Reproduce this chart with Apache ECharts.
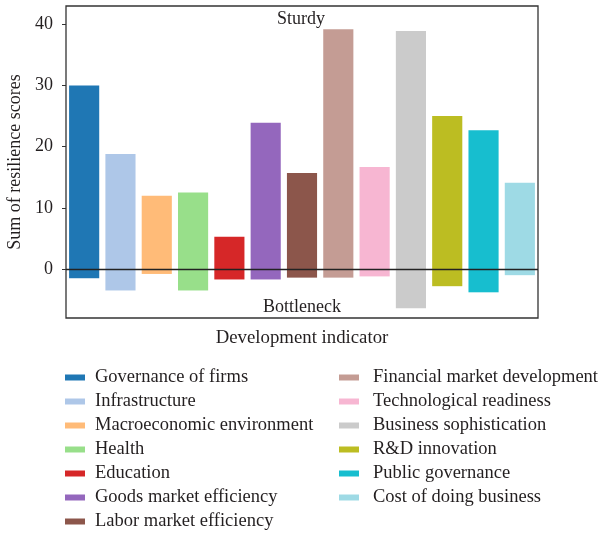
<!DOCTYPE html>
<html>
<head>
<meta charset="utf-8">
<script src="https://cdn.jsdelivr.net/npm/echarts@6/dist/echarts.min.js"></script>
<style>html,body{margin:0;padding:0;background:#fff}#c{width:602px;height:535px}</style>
</head>
<body>
<div id="c"></div>
<script>
const categories = ["Governance of firms","Infrastructure","Macroeconomic environment","Health","Education","Goods market efficiency","Labor market efficiency","Financial market development","Technological readiness","Business sophistication","R&D innovation","Public governance","Cost of doing business"];
const sturdyValues = [30.0, 18.8, 12.0, 12.5, 5.3, 23.9, 15.7, 39.2, 16.7, 38.9, 25.0, 22.7, 14.1];
const bottleneckValues = [-1.5, -3.5, -0.8, -3.5, -1.7, -1.7, -1.4, -1.4, -1.2, -6.4, -2.8, -3.8, -1.0];
const colors = ["#1f77b4","#aec7e8","#ffbb78","#98df8a","#d62728","#9467bd","#8c564b","#c49c94","#f7b6d2","#cbcbcb","#bcbd22","#17becf","#9edae5"];
const yTicks = [0, 10, 20, 30, 40];

const FONT = "Liberation Serif";
const TXT = "#231f20";

const series = [];
categories.forEach((name, i) => {
  const pos = categories.map((_, j) => j === i ? sturdyValues[i] : '-');
  const neg = categories.map((_, j) => j === i ? bottleneckValues[i] : '-');
  series.push({ name, type: 'bar', stack: 'all', data: pos, barWidth: '83%', itemStyle: { color: colors[i] }, emphasis: { disabled: true } });
  series.push({ name, type: 'bar', stack: 'all', data: neg, barWidth: '83%', itemStyle: { color: colors[i] }, emphasis: { disabled: true } });
});
series[series.length - 1].markLine = {
  silent: true, symbol: 'none', label: { show: false },
  lineStyle: { color: '#222', type: 'solid', width: 1.3 },
  data: [{ yAxis: 0 }]
};

function legendStyle(padLeft) {
  return {
    orient: 'vertical', icon: 'rect', itemWidth: 20, itemHeight: 6, itemGap: 5,
    padding: 0, height: 200,
    textStyle: { fontFamily: FONT, fontSize: 18.5, color: TXT, lineHeight: 18, padding: [0, 0, 0, padLeft] },
    selectedMode: false
  };
}

const option = {
  animation: false,
  grid: { left: 66, right: 64, top: 6, bottom: 217, show: true, borderColor: '#333', borderWidth: 1.3, containLabel: false, outerBoundsMode: 'none' },
  xAxis: {
    type: 'category', data: categories,
    axisLine: { show: false }, axisTick: { show: false }, axisLabel: { show: false },
    name: 'Development indicator', nameLocation: 'middle', nameGap: 11,
    nameTextStyle: { fontFamily: FONT, fontSize: 18.8, color: TXT, verticalAlign: 'top' }
  },
  yAxis: {
    type: 'value', min: -8, max: 43,
    splitLine: { show: false },
    axisLine: { show: false },
    axisTick: { show: true, inside: false, length: 4, customValues: yTicks, lineStyle: { color: '#333' } },
    axisLabel: { customValues: yTicks, fontFamily: FONT, fontSize: 18, color: TXT, margin: 13 },
    name: 'Sum of resilience scores', nameLocation: 'middle', nameGap: 37,
    nameTextStyle: { fontFamily: FONT, fontSize: 18, color: TXT }
  },
  legend: [
    Object.assign({ left: 65, top: 368, data: categories.slice(0, 7) }, legendStyle(5)),
    Object.assign({ left: 339, top: 368, data: categories.slice(7) }, legendStyle(9))
  ],
  graphic: [
    { type: 'text', x: 301, y: 19, style: { text: 'Sturdy', font: '18px "Liberation Serif"', fill: TXT, align: 'center', verticalAlign: 'middle' } },
    { type: 'text', x: 302, y: 307, style: { text: 'Bottleneck', font: '18px "Liberation Serif"', fill: TXT, align: 'center', verticalAlign: 'middle' } }
  ],
  series
};
const chart = echarts.init(document.getElementById('c'), null, { renderer: 'canvas' });
chart.setOption(option);
</script>
</body>
</html>
